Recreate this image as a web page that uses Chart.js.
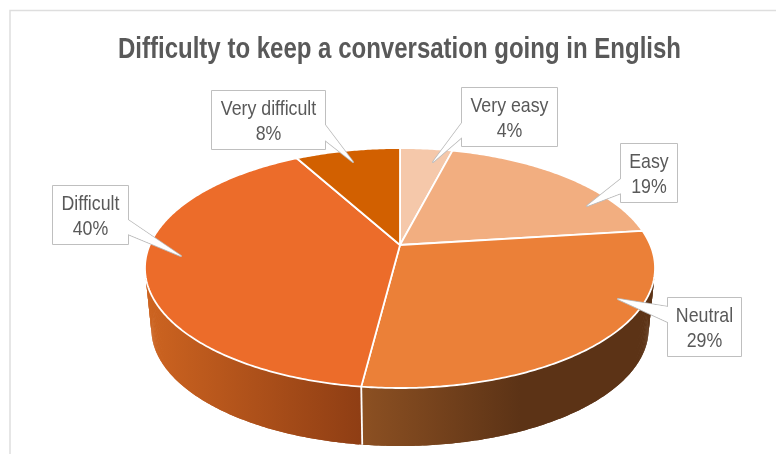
<!DOCTYPE html>
<html>
<head>
<meta charset="utf-8">
<title>Difficulty to keep a conversation going in English</title>
<style>
  html, body { margin: 0; padding: 0; background: #fff; }
  canvas { display: block; }
</style>
<script src="https://cdn.jsdelivr.net/npm/chart.js@4/dist/chart.umd.min.js"></script>
</head>
<body>
<canvas id="difficultyChart" width="776" height="454"></canvas>
<script>
var chartTitle = 'Difficulty to keep a conversation going in English';
var categories = ['Very easy', 'Easy', 'Neutral', 'Difficult', 'Very difficult'];
var percentages = [4, 19, 29, 40, 8];
var sliceColors = ['#f5c8aa', '#f2ae80', '#eb8038', '#ec6c2a', '#d26000'];

// horizontal gradients for the front wall, only two slices show one
var wallShades = {
    'Neutral': { from: 362, to: 520, stops: ['#8c5022', '#5c3316'] },
    'Difficult': { from: 150, to: 360, stops: ['#cc6320', '#8f3e14'] }
};

// label boxes and where their pointers land
var callouts = {
    'Very easy': { x: 462, y: 88, w: 95, h: 58, tip: [433, 162], base: [[462, 123], [462, 137]] },
    'Easy': { x: 621, y: 144, w: 56, h: 58, tip: [587, 206], base: [[621, 179], [621, 193]] },
    'Neutral': { x: 668, y: 298, w: 73, h: 58, tip: [618, 299], base: [[668, 307], [668, 322]] },
    'Difficult': { x: 53, y: 186, w: 75, h: 58, tip: [181, 256], base: [[128, 220], [128, 234]] },
    'Very difficult': { x: 212, y: 91, w: 113, h: 58, tip: [353, 162], base: [[325, 125], [325, 140]] }
};

// perspective of the tilted disc
var lid = { cx: 400, cy: 245, rx: 250.3, ry: 115.6 };
var base = { cx: 400, cy: 306.6, rx: 244, ry: 112.7 };
var tilt = 0.1917;

function project(disc, angle) {
    var u = Math.cos(angle), v = -Math.sin(angle);
    var d = 1 + tilt * v;
    return [disc.cx + disc.rx * u / d, disc.cy - disc.ry * v / d];
}

function traceRim(ctx, disc, a0, a1) {
    var steps = Math.max(2, Math.ceil(Math.abs(a1 - a0) * 90));
    for (var i = 0; i <= steps; i++) {
        var p = project(disc, a0 + (a1 - a0) * i / steps);
        ctx.lineTo(p[0], p[1]);
    }
}

// text squeezed sideways, no narrow face is installed
function narrowText(ctx, text, x, y, squeeze) {
    ctx.save();
    ctx.translate(x, y);
    ctx.scale(squeeze, 1);
    ctx.fillText(text, 0, 0);
    ctx.restore();
}

var framePlugin = {
    id: 'frame',
    beforeDraw: function (chart) {
        var ctx = chart.ctx;
        ctx.save();
        ctx.strokeStyle = '#dedede';
        ctx.lineWidth = 1.5;
        ctx.beginPath();
        ctx.moveTo(10, 454);
        ctx.lineTo(10, 10.5);
        ctx.lineTo(776, 10.5);
        ctx.stroke();

        ctx.fillStyle = '#595959';
        ctx.font = 'bold 29px "Liberation Sans", sans-serif';
        ctx.textAlign = 'center';
        ctx.textBaseline = 'alphabetic';
        narrowText(ctx, chartTitle, 399.5, 58, 0.828);
        ctx.restore();
    }
};

// the pie elements give the angles, this draws them as a thick tilted disc
var discPlugin = {
    id: 'disc',
    beforeDatasetDraw: function (chart, args) {
        var ctx = chart.ctx;
        var arcs = args.meta.data;
        ctx.save();

        arcs.forEach(function (arc, i) {
            var shade = wallShades[categories[i]];
            if (!shade) return;
            var g = ctx.createLinearGradient(shade.from, 0, shade.to, 0);
            g.addColorStop(0, shade.stops[0]);
            g.addColorStop(1, shade.stops[1]);
            ctx.fillStyle = g;
            // overlapping strips, the wall folds over at the left and right ends
            var n = Math.ceil((arc.endAngle - arc.startAngle) * 90);
            for (var s = 0; s < n; s++) {
                var a0 = arc.startAngle + (arc.endAngle - arc.startAngle) * s / n;
                var a1 = arc.startAngle + (arc.endAngle - arc.startAngle) * Math.min(s + 2, n) / n;
                ctx.beginPath();
                traceRim(ctx, lid, a0, a1);
                traceRim(ctx, base, a1, a0);
                ctx.closePath();
                ctx.fill();
            }
        });

        // seam between the two visible wall pieces
        var seam = arcs[categories.indexOf('Difficult')].startAngle;
        var p0 = project(lid, seam), p1 = project(base, seam);
        ctx.strokeStyle = '#fff';
        ctx.lineWidth = 1.8;
        ctx.beginPath();
        ctx.moveTo(p0[0], p0[1]);
        ctx.lineTo(p1[0], p1[1]);
        ctx.stroke();

        arcs.forEach(function (arc, i) {
            ctx.beginPath();
            ctx.moveTo(lid.cx, lid.cy);
            traceRim(ctx, lid, arc.startAngle, arc.endAngle);
            ctx.closePath();
            ctx.fillStyle = sliceColors[i];
            ctx.fill();
            ctx.strokeStyle = '#fff';
            ctx.lineWidth = 1.8;
            ctx.lineJoin = 'round';
            ctx.stroke();
        });

        ctx.restore();
        return false;
    }
};

var calloutPlugin = {
    id: 'callouts',
    afterDatasetsDraw: function (chart) {
        var ctx = chart.ctx;
        ctx.save();
        ctx.lineJoin = 'round';
        categories.forEach(function (name, i) {
            var c = callouts[name];
            ctx.beginPath();
            ctx.rect(c.x, c.y, c.w, c.h);
            ctx.moveTo(c.base[0][0], c.base[0][1]);
            ctx.lineTo(c.tip[0], c.tip[1]);
            ctx.lineTo(c.base[1][0], c.base[1][1]);
            ctx.strokeStyle = '#bfbfbf';
            ctx.lineWidth = 2;
            ctx.stroke();
            ctx.fillStyle = '#fff';
            ctx.fill();
            // hide the box edge under the pointer opening
            ctx.beginPath();
            ctx.moveTo(c.base[0][0], c.base[0][1]);
            ctx.lineTo(c.tip[0], c.tip[1]);
            ctx.lineTo(c.base[1][0], c.base[1][1]);
            ctx.closePath();
            ctx.fill();

            ctx.fillStyle = '#595959';
            ctx.font = '21px "Liberation Sans", sans-serif';
            ctx.textAlign = 'center';
            ctx.textBaseline = 'alphabetic';
            var mid = c.x + c.w / 2, midY = c.y + c.h / 2;
            narrowText(ctx, name, mid, midY - 5, 0.846);
            narrowText(ctx, percentages[i] + '%', mid, midY + 20, 0.846);
        });
        ctx.restore();
    }
};

new Chart(document.getElementById('difficultyChart'), {
    type: 'pie',
    data: {
        labels: categories,
        datasets: [{
            data: percentages,
            backgroundColor: sliceColors,
            borderColor: '#fff',
            borderWidth: 1.5
        }]
    },
    options: {
        responsive: false,
        animation: false,
        events: [],
        plugins: {
            legend: { display: false },
            tooltip: { enabled: false },
            title: { display: false }
        }
    },
    plugins: [framePlugin, discPlugin, calloutPlugin]
});
</script>
</body>
</html>
